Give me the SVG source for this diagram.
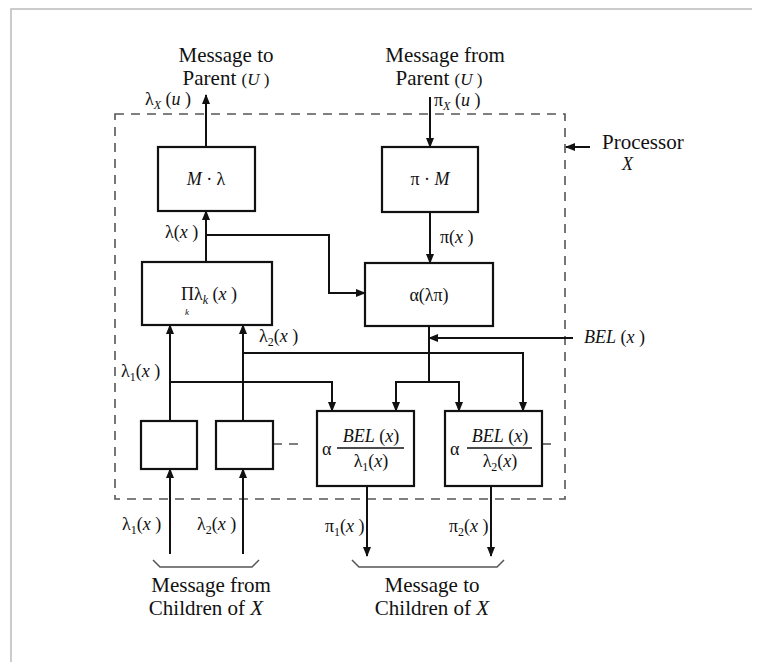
<svg xmlns="http://www.w3.org/2000/svg" width="758" height="662" viewBox="0 0 758 662">
<defs>
<marker id="ah" markerUnits="userSpaceOnUse" markerWidth="10" markerHeight="10" viewBox="0 0 10 10" refX="9" refY="5" orient="auto">
<path d="M0,1 L10,5 L0,9 Z" fill="#111"/>
</marker>
<style>
.box{fill:#fff;stroke:#111;stroke-width:2.2}
.ln{fill:none;stroke:#111;stroke-width:2}
.arr{fill:none;stroke:#111;stroke-width:2;marker-end:url(#ah)}
.dash{fill:none;stroke:#555;stroke-width:1.6;stroke-dasharray:9 7}
.t{font-family:"Liberation Serif","Times New Roman",serif;font-size:21px;fill:#111}
.m{font-family:"Liberation Serif","Times New Roman",serif;font-size:18px;fill:#111}
.i{font-style:italic}
.frame{stroke:#bbb;stroke-width:1.5;fill:none}
</style>
</defs>
<rect width="758" height="662" fill="#fff"/>
<path class="frame" d="M11,662 V9 H752"/>

<rect class="dash" x="115" y="114" width="450" height="385"/>

<g id="connectors">
<path class="arr" d="M206,147 V95"/>
<path class="arr" d="M430,97 V147"/>
<path class="arr" d="M430,212 V263"/>
<path class="arr" d="M206,262 V211"/>
<path class="arr" d="M206,235 H329 V293 H365"/>
<path class="arr" d="M170,421 V325"/>
<path class="arr" d="M243,421 V325"/>
<path class="ln" d="M429,326 V382"/>
<path class="arr" d="M573,338 H429"/>
<path class="arr" d="M243,353 H523 V411"/>
<path class="arr" d="M170,382 H332 V411"/>
<path class="arr" d="M429,382 H396 V411"/>
<path class="arr" d="M429,382 H459 V411"/>
<path class="arr" d="M170,554 V469"/>
<path class="arr" d="M243,554 V469"/>
<path class="arr" d="M367,486 V556"/>
<path class="arr" d="M491,486 V556"/>
<path class="arr" d="M590,147 H566"/>
<path class="dash" d="M273,444 H300"/>
<path class="dash" d="M542,444 H552"/>
<path fill="none" stroke="#555" stroke-width="1.5" d="M153,560 L160,567 H252 L259,560"/>
<path fill="none" stroke="#555" stroke-width="1.5" d="M352,560 L359,567 H497 L504,560"/>
</g>

<g id="n_mlambda">
<rect class="box" x="158" y="147" width="97" height="64"/>
<text class="m" x="206" y="185" text-anchor="middle"><tspan class="i">M</tspan> · λ</text>
</g>
<g id="n_pim">
<rect class="box" x="382" y="147" width="96" height="65"/>
<text class="m" x="430" y="185" text-anchor="middle">π · <tspan class="i">M</tspan></text>
</g>
<g id="n_prod">
<rect class="box" x="142" y="262" width="130" height="63"/>
<text class="m" x="181" y="300">Πλ<tspan font-size="12" dy="4" class="i">k</tspan><tspan dy="-4"> (</tspan><tspan class="i">x</tspan> )<tspan x="185" dy="15" font-size="9" class="i">k</tspan></text>
</g>
<g id="n_alpha">
<rect class="box" x="365" y="263" width="128" height="63"/>
<text class="m" x="429" y="301" text-anchor="middle">α(λπ)</text>
</g>
<g id="n_small1">
<rect class="box" x="141" y="421" width="56" height="48"/>
</g>
<g id="n_small2">
<rect class="box" x="216" y="421" width="57" height="48"/>
</g>
<g id="n_bel1">
<rect class="box" x="317" y="411" width="97" height="75"/>
<text class="m" x="322" y="455">α</text>
<line x1="337" y1="448" x2="404" y2="448" stroke="#111" stroke-width="1.3"/>
<text class="m" x="371" y="442" text-anchor="middle"><tspan class="i">BEL</tspan> (<tspan class="i">x</tspan>)</text>
<text class="m" x="371" y="467" text-anchor="middle">λ<tspan font-size="12" dy="4">1</tspan><tspan dy="-4">(</tspan><tspan class="i">x</tspan>)</text>
</g>
<g id="n_bel2">
<rect class="box" x="445" y="411" width="97" height="75"/>
<text class="m" x="450" y="455">α</text>
<line x1="467" y1="448" x2="532" y2="448" stroke="#111" stroke-width="1.3"/>
<text class="m" x="500" y="442" text-anchor="middle"><tspan class="i">BEL</tspan> (<tspan class="i">x</tspan>)</text>
<text class="m" x="500" y="467" text-anchor="middle">λ<tspan font-size="12" dy="4">2</tspan><tspan dy="-4">(</tspan><tspan class="i">x</tspan>)</text>
</g>

<g id="labels">
<text class="t" x="226" y="62" text-anchor="middle">Message to</text>
<text class="t" x="226" y="85" text-anchor="middle">Parent <tspan font-size="17">(</tspan><tspan font-size="17" class="i">U</tspan><tspan font-size="17"> )</tspan></text>
<text class="t" x="445" y="62" text-anchor="middle">Message from</text>
<text class="t" x="439" y="85" text-anchor="middle">Parent <tspan font-size="17">(</tspan><tspan font-size="17" class="i">U</tspan><tspan font-size="17"> )</tspan></text>
<text class="m" x="145" y="105">λ<tspan font-size="12" dy="4" class="i">X</tspan><tspan dy="-4"> (</tspan><tspan class="i">u</tspan> )</text>
<text class="m" x="434" y="106">π<tspan font-size="12" dy="4" class="i">X</tspan><tspan dy="-4"> (</tspan><tspan class="i">u</tspan> )</text>
<text class="t" x="602" y="149">Processor</text>
<text class="m i" x="622" y="170">X</text>
<text class="m" x="165" y="238">λ(<tspan class="i">x</tspan> )</text>
<text class="m" x="440" y="243">π(<tspan class="i">x</tspan> )</text>
<text class="m" x="259" y="342">λ<tspan font-size="12" dy="4">2</tspan><tspan dy="-4">(</tspan><tspan class="i">x</tspan> )</text>
<text class="m" x="121" y="377">λ<tspan font-size="12" dy="4">1</tspan><tspan dy="-4">(</tspan><tspan class="i">x</tspan> )</text>
<text class="m" x="584" y="343"><tspan class="i">BEL</tspan> (<tspan class="i">x</tspan> )</text>
<text class="m" x="122" y="530">λ<tspan font-size="12" dy="4">1</tspan><tspan dy="-4">(</tspan><tspan class="i">x</tspan> )</text>
<text class="m" x="197" y="530">λ<tspan font-size="12" dy="4">2</tspan><tspan dy="-4">(</tspan><tspan class="i">x</tspan> )</text>
<text class="m" x="325" y="532">π<tspan font-size="12" dy="4">1</tspan><tspan dy="-4">(</tspan><tspan class="i">x</tspan> )</text>
<text class="m" x="449" y="532">π<tspan font-size="12" dy="4">2</tspan><tspan dy="-4">(</tspan><tspan class="i">x</tspan> )</text>
<text class="t" x="211" y="592" text-anchor="middle">Message from</text>
<text class="t" x="206" y="615" text-anchor="middle">Children of <tspan class="i">X</tspan></text>
<text class="t" x="432" y="592" text-anchor="middle">Message to</text>
<text class="t" x="432" y="615" text-anchor="middle">Children of <tspan class="i">X</tspan></text>
</g>
</svg>
